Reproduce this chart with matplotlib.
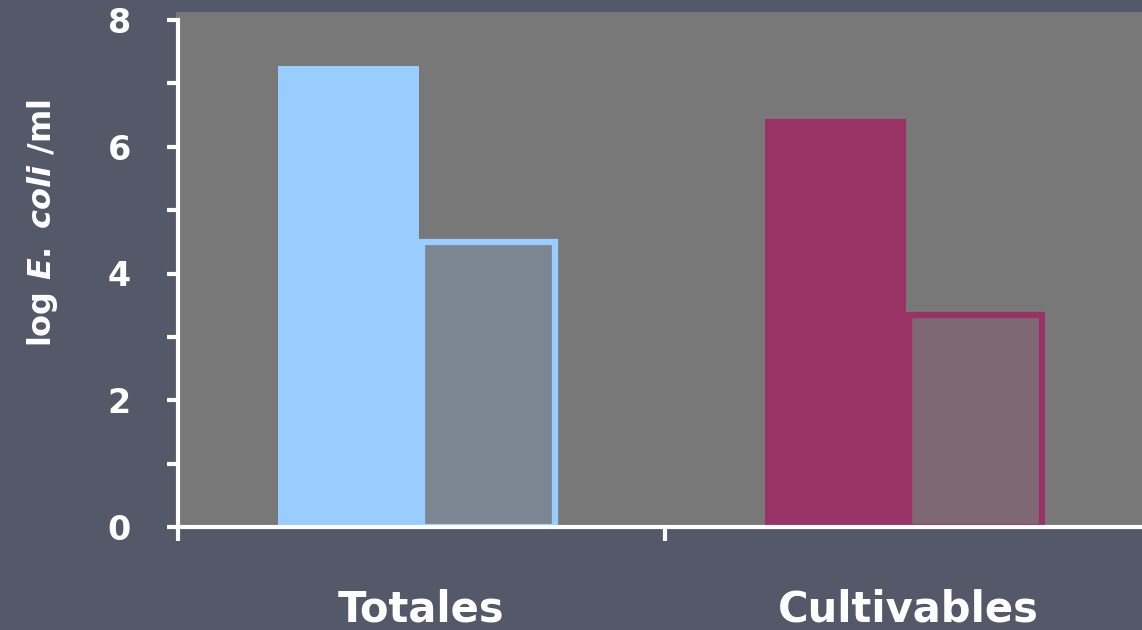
import matplotlib.pyplot as plt
from matplotlib.patches import Rectangle

plt.rcParams['font.family'] = ['DejaVu Sans']
plt.rcParams['mathtext.fontset'] = 'custom'
plt.rcParams['mathtext.it'] = 'DejaVu Sans:italic:bold'
plt.rcParams['mathtext.rm'] = 'DejaVu Sans:bold'

# data
categorias = ['Totales', 'Cultivables']
total_vals = [7.27, 6.43]     # solid bars
viables_vals = [4.5, 3.35]    # outlined bars
solid_colors = ['#99ccff', '#993366']
inner_colors = ['#7b8692', '#7d6874']

bg = '#545868'
fig = plt.figure(figsize=(11.42, 6.30), dpi=100, facecolor=bg)
# grey plot panel behind the axes
panel = Rectangle((176 / 1142, 1 - 527 / 630), 1.0, (527 - 12) / 630,
                  transform=fig.transFigure, facecolor='#787878', edgecolor='none', zorder=-1)
fig.patches.append(panel)

ax = fig.add_axes([178 / 1142, 1 - 527 / 630, 974 / 1142, 507 / 630])
ax.set_facecolor('none')

w = 0.289
centers = [0.5, 1.5]
for i in range(len(categorias)):
    c = centers[i] - 0.005
    ax.bar(c - w / 2, total_vals[i], width=w, color=solid_colors[i], edgecolor='none', zorder=2)
    ax.bar(c + w / 2 - 0.002, viables_vals[i], width=w - 0.014, color=inner_colors[i],
           edgecolor=solid_colors[i], linewidth=4.5, zorder=2)

ax.set_xlim(0, 2)
ax.set_ylim(0, 8)
ax.set_yticks([0, 2, 4, 6, 8])
ax.set_yticks([1, 3, 5, 7], minor=True)
ax.set_xticks([0, 1, 2])
ax.set_xticklabels([])
ax.set_xticks(centers, minor=True)
ax.set_xticklabels(categorias, minor=True)

for s in ['top', 'right']:
    ax.spines[s].set_visible(False)
for s in ['left', 'bottom']:
    ax.spines[s].set_color('white')
    ax.spines[s].set_linewidth(3)
    ax.spines[s].set_zorder(3)

ax.tick_params(axis='y', which='both', colors='white', width=3, length=8, direction='out')
ax.tick_params(axis='y', which='major', labelsize=24, pad=26)
ax.tick_params(axis='x', which='major', colors='white', width=3, length=10, direction='out')
ax.tick_params(axis='x', which='minor', colors='white', length=0, labelsize=30, pad=44)
for lab in ax.get_yticklabels() + ax.get_xticklabels(minor=True):
    lab.set_fontweight('bold')
    lab.set_color('white')

ax.set_ylabel(r'log $\mathit{E.\ coli}$ /ml', color='white', fontsize=23, fontweight='bold')
ax.yaxis.set_label_coords(-0.121, 0.6)

fig.savefig('out.png', dpi=100, facecolor=bg)
